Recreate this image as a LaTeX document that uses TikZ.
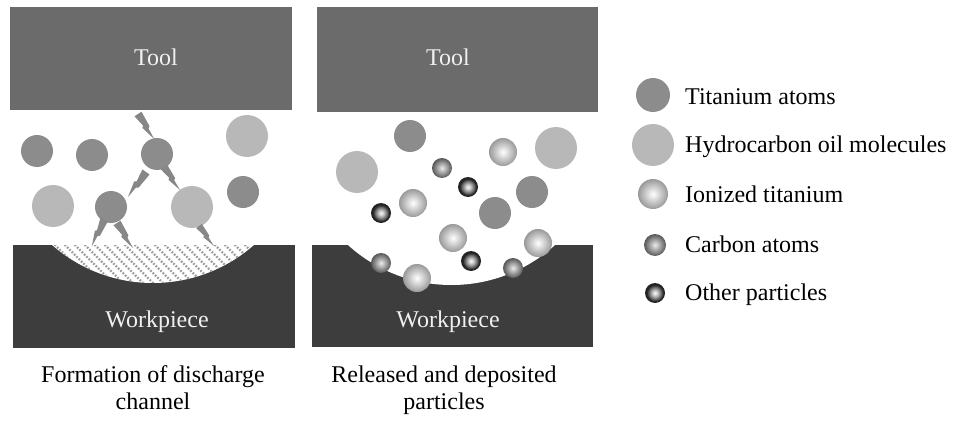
\documentclass[tikz,border=0pt]{standalone}
\usepackage{fontspec}
\setmainfont{Liberation Serif}

% ball shadings for the charged / small particles
\pgfdeclareradialshading{ionball}{\pgfpointorigin}{color(0bp)=(white); color(25bp)=(black!40); color(50bp)=(black!40)}
\pgfdeclareradialshading{carbball}{\pgfpointorigin}{color(0bp)=(black!8); color(25bp)=(black!66); color(50bp)=(black!66)}
\pgfdeclareradialshading{otherball}{\pgfpointorigin}{color(0bp)=(black!3); color(6bp)=(black!20); color(15bp)=(black!58); color(21bp)=(black!88); color(25bp)=(black!85); color(50bp)=(black!85)}

\tikzset{
  toolfill/.style={fill=black!58},
  workfill/.style={fill=black!76},
  ti/.style={circle, fill=black!45, inner sep=0pt, minimum size=32pt},
  hc/.style={circle, fill=black!28, inner sep=0pt, minimum size=42pt},
  ion/.style={circle, shading=ionball, inner sep=0pt, minimum size=28pt},
  carb/.style={circle, shading=carbball, inner sep=0pt, minimum size=20pt},
  oth/.style={circle, shading=otherball, inner sep=0pt, minimum size=20pt},
  txt/.style={font=\fontsize{24}{28}\selectfont, inner sep=0pt},
  wtxt/.style={txt, text=white!94!black},
  hatch/.style={draw=black!38, line width=2.2pt, dash pattern=on 1.8pt off 1.5pt},
  pics/bolt/.style={code={
    \fill[black!47] (0,-0.14) -- (0,0.14) -- (0.42,0.07) -- (0.47,0.13)
      -- (1,0) -- (0.6,-0.03) -- (0.55,-0.1) -- cycle;}}
}

\begin{document}
\begin{tikzpicture}[x=1pt, y=-1pt]
\useasboundingbox (0,0) rectangle (962,423);

% ---------------- left panel: discharge channel ----------------
\fill[toolfill] (10,7) rectangle (292,110);
\node[wtxt, anchor=base] (toolA) at (156,65) {Tool};
\fill[workfill] (13,245) rectangle (295,348);
\begin{scope}
  \clip (13,245) rectangle (295,348);
  \clip (153,130) circle[radius=153];
  \fill[white] (0,200) rectangle (300,350);
  \foreach \a in {-10,0,...,280}
    \draw[hatch] (\a,240) -- (\a+60,300);
\end{scope}
\node[wtxt, anchor=base] (workA) at (157,327) {Workpiece};

\node[ti] (a1) at (37,151) {};
\node[ti] (a2) at (92,155) {};
\node[ti] (a3) at (157,154) {};
\node[hc] (a4) at (247,136) {};
\node[ti] (a5) at (243,192) {};
\node[hc] (a6) at (53,206) {};
\node[ti] (a7) at (111,207) {};
\node[hc] (a8) at (192,207) {};

% sparks of the discharge
\pic[rotate=-57, scale=30] at (138,114) {bolt};
\pic[rotate=-55.2, scale=28] at (164,167) {bolt};
\pic[rotate=-125.8, scale=31] at (146,172) {bolt};
\pic[rotate=-114.8, scale=29] at (104,220) {bolt};
\pic[rotate=-57.4, scale=30] at (117,223) {bolt};
\pic[rotate=-53, scale=25] at (199,226) {bolt};

\node[txt, anchor=base] (capA1) at (153,382) {Formation of discharge};
\node[txt, anchor=base] (capA2) at (153,409) {channel};

% ---------------- right panel: released particles ----------------
\fill[toolfill] (317,7) rectangle (598,112);
\node[wtxt, anchor=base] (toolB) at (448,65) {Tool};
\fill[workfill] (312,245) rectangle (593,347);
\begin{scope}
  \clip (312,245) rectangle (593,347);
  \fill[white] (451.5,131) circle[radius=154];
\end{scope}
\node[wtxt, anchor=base] (workB) at (448,327) {Workpiece};

\node[ti]   (b1)  at (410,136) {};
\node[hc]   (b2)  at (357,172) {};
\node[ion]  (b3)  at (503,152) {};
\node[hc]   (b4)  at (556,148) {};
\node[carb] (b5)  at (442,168) {};
\node[oth]  (b6)  at (468,187) {};
\node[ti]   (b7)  at (532,192) {};
\node[oth]  (b8)  at (381,213) {};
\node[ion]  (b9)  at (413,203) {};
\node[ti]   (b10) at (495,213) {};
\node[ion]  (b11) at (453,238) {};
\node[ion]  (b12) at (538,243) {};
\node[carb] (b13) at (381,263) {};
\node[oth]  (b14) at (471,261) {};
\node[ion]  (b15) at (417,278) {};
\node[carb] (b16) at (513,268) {};

\node[txt, anchor=base] (capB1) at (444,382) {Released and deposited};
\node[txt, anchor=base] (capB2) at (444,409) {particles};

% ---------------- legend ----------------
\node[ti, minimum size=34pt]   (k1) at (653,95) {};
\node[hc, minimum size=42pt]   (k2) at (653,145) {};
\node[ion, minimum size=30pt]  (k3) at (653,194) {};
\node[carb, minimum size=22pt] (k4) at (655,245) {};
\node[oth, minimum size=20pt]  (k5) at (655,293) {};
\node[txt, anchor=base west] (t1) at (685,104) {Titanium atoms};
\node[txt, anchor=base west] (t2) at (685,152) {Hydrocarbon oil molecules};
\node[txt, anchor=base west] (t3) at (685,202) {Ionized titanium};
\node[txt, anchor=base west] (t4) at (685,252) {Carbon atoms};
\node[txt, anchor=base west] (t5) at (685,300) {Other particles};
\end{tikzpicture}
\end{document}
